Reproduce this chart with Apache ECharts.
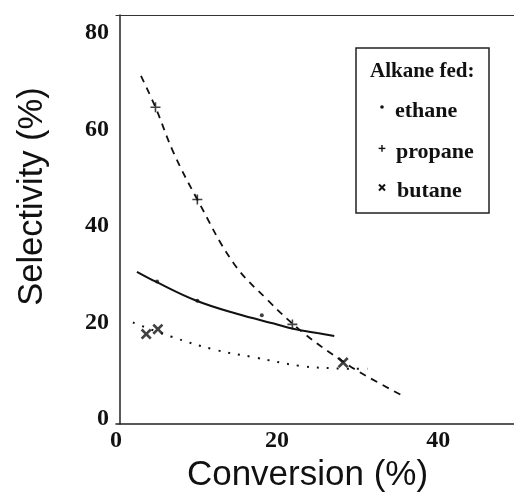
<!DOCTYPE html>
<html>
<head>
<meta charset="utf-8">
<script src="https://cdn.jsdelivr.net/npm/echarts@6/dist/echarts.min.js"></script>
<style>html,body{margin:0;padding:0;background:#fff}#c{width:514px;height:495px}</style>
</head>
<body>
<div id="c"></div>
<script>
// measured data points
var ethaneX = [5.1, 10.1, 18.1];
var ethaneY = [28.5, 24.5, 21.5];
var propaneX = [4.9, 10.1, 21.9];
var propaneY = [64.6, 45.5, 19.6];
var butaneX = [3.75, 5.2, 28.2];
var butaneY = [17.6, 18.6, 11.7];
// fitted curves
var ethaneFitX = [2.6, 5, 10, 15, 20, 22, 25, 27.1];
var ethaneFitY = [30.5, 28.4, 24.5, 21.8, 19.6, 18.7, 17.8, 17.2];
var propaneFitX = [3.1, 4.9, 7.2, 10.1, 14.6, 18.8, 23.3, 28.2, 31.2, 35.6];
var propaneFitY = [71.1, 64.6, 55, 45.5, 32.3, 24.7, 17.8, 11.9, 8.8, 4.8];
var butaneFitX = [2.1, 6.8, 12.4, 17.1, 22.9, 27.1, 31.2];
var butaneFitY = [20, 17.1, 14.3, 12.8, 11, 10.5, 10.4];
// tick labels
var xTicks = [0, 20, 40];
var yTicks = [0, 20, 40, 60, 80];
var legendTitle = 'Alkane fed:';
var legendNames = ['ethane', 'propane', 'butane'];

function zip(a, b) { return a.map(function (v, i) { return [v, b[i]]; }); }

var plusPath = 'path://M4.2,0H5.8V4.2H10V5.8H5.8V10H4.2V5.8H0V4.2H4.2Z';
var crossPath = 'path://M0,1.7L1.7,0L5,3.3L8.3,0L10,1.7L6.7,5L10,8.3L8.3,10L5,6.7L1.7,10L0,8.3L3.3,5Z';

var tickFont = { fontFamily: 'Liberation Serif', fontWeight: 'bold', fontSize: 24, color: '#111' };

function seg(x1, y1, x2, y2, w) {
  return { type: 'line', z: 11, shape: { x1: x1, y1: y1, x2: x2, y2: y2 }, style: { stroke: '#111', lineWidth: w } };
}

var chart = echarts.init(document.getElementById('c'), null, { renderer: 'canvas' });
chart.setOption({
  animation: false,
  backgroundColor: '#fff',
  grid: { left: 116, top: 15, width: 414, height: 409, containLabel: false, outerBoundsMode: 'none' },
  xAxis: [{
    type: 'value', min: 0, max: 51.4, position: 'bottom',
    name: 'Conversion (%)', nameLocation: 'middle', nameGap: 33,
    nameTextStyle: { fontFamily: 'Liberation Sans', fontSize: 35, color: '#111', padding: [0, 31, 0, 0] },
    axisLine: { show: true, onZero: false, lineStyle: { color: '#222', width: 1.5 } },
    axisTick: { show: false }, splitLine: { show: false },
    axisLabel: Object.assign({ customValues: xTicks, margin: 5 }, tickFont)
  }, {
    type: 'value', min: 0, max: 51.4, position: 'top',
    axisLine: { show: true, onZero: false, lineStyle: { color: '#333', width: 1.2 } },
    axisTick: { show: false }, splitLine: { show: false }, axisLabel: { show: false }
  }],
  yAxis: {
    type: 'value', min: -1.04, max: 83.73, offset: -4,
    name: 'Selectivity (%)', nameLocation: 'middle', nameGap: 70, nameRotate: 90,
    nameTextStyle: { fontFamily: 'Liberation Sans', fontSize: 34.5, color: '#111', padding: [0, 0, 0, 46] },
    axisLine: { show: true, onZero: false, lineStyle: { color: '#222', width: 1.5 } },
    axisTick: { show: false }, splitLine: { show: false },
    axisLabel: Object.assign({ customValues: yTicks, margin: 11 }, tickFont)
  },
  series: [
    { name: 'ethane fit', type: 'line', smooth: 0.4, showSymbol: false, data: zip(ethaneFitX, ethaneFitY),
      lineStyle: { color: '#111', width: 2 } },
    { name: 'propane fit', type: 'line', smooth: 0.4, showSymbol: false, data: zip(propaneFitX, propaneFitY),
      lineStyle: { color: '#111', width: 1.8, type: [7, 6] } },
    { name: 'butane fit', type: 'line', smooth: 0.4, showSymbol: false, data: zip(butaneFitX, butaneFitY),
      lineStyle: { color: '#111', width: 2, type: [2, 8] } },
    { name: legendNames[0], type: 'scatter', symbol: 'circle', symbolSize: 4, data: zip(ethaneX, ethaneY),
      itemStyle: { color: '#111' } },
    { name: legendNames[1], type: 'scatter', symbol: plusPath, symbolSize: 10, data: zip(propaneX, propaneY),
      itemStyle: { color: '#111' } },
    { name: legendNames[2], type: 'scatter', symbol: crossPath, symbolSize: 11, data: zip(butaneX, butaneY),
      itemStyle: { color: '#111' } }
  ],
  graphic: [
    { type: 'rect', shape: { x: 356, y: 48, width: 133, height: 165 },
      style: { fill: '#fff', stroke: '#222', lineWidth: 1.5 }, z: 10 },
    { type: 'text', x: 370, y: 72, z: 11,
      style: { text: legendTitle, font: 'bold 21px "Liberation Serif"', fill: '#111', verticalAlign: 'middle' } },
    { type: 'circle', shape: { cx: 382, cy: 107, r: 1.8 }, style: { fill: '#111' }, z: 11 },
    { type: 'text', x: 395, y: 111, z: 11,
      style: { text: legendNames[0], font: 'bold 22px "Liberation Serif"', fill: '#111', verticalAlign: 'middle' } },
    seg(378.6, 148.4, 385.4, 148.4, 1.4),
    seg(382, 145, 382, 151.8, 1.4),
    { type: 'text', x: 396, y: 152, z: 11,
      style: { text: legendNames[1], font: 'bold 22px "Liberation Serif"', fill: '#111', verticalAlign: 'middle' } },
    seg(379, 184.5, 385, 190.5, 2),
    seg(385, 184.5, 379, 190.5, 2),
    { type: 'text', x: 397, y: 191, z: 11,
      style: { text: legendNames[2], font: 'bold 22px "Liberation Serif"', fill: '#111', verticalAlign: 'middle' } }
  ]
});
</script>
</body>
</html>
